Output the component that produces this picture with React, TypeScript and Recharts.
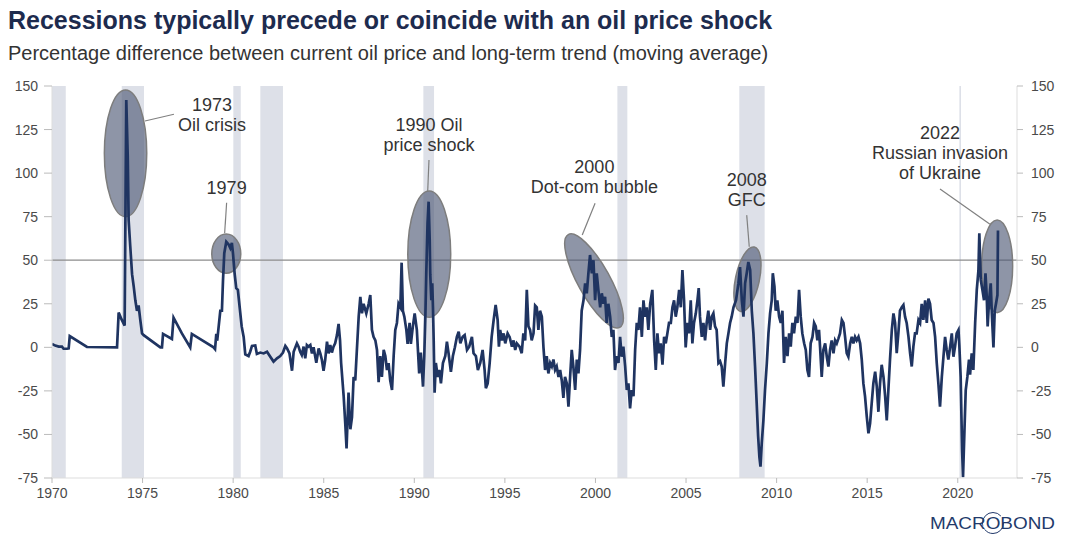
import React from "react";
import { ComposedChart, Line, XAxis, YAxis, ReferenceArea, ReferenceLine, ReferenceDot } from "recharts";

type Pt = [number, number];

// [year, % gap to long-term trend]
const s1970s: Pt[] = [
  [1970.0, 2], [1970.18, 1], [1970.37, 0.4], [1970.55, 0.4], [1970.64, -0.8], [1970.83, -0.8], [1970.92, -0.6], [1970.98, 6.5],
  [1971.93, 0.2], [1973.59, 0], [1973.68, 20], [1973.84, 16], [1974.01, 12.5], [1974.1, 142], [1974.18, 110], [1974.23, 73],
  [1974.32, 58], [1974.42, 42], [1974.51, 35], [1974.6, 27], [1974.69, 21], [1974.78, 24], [1974.87, 16], [1974.97, 8],
  [1975.06, 7], [1975.98, 0], [1976.07, 0], [1976.13, 7.7], [1976.62, 4.8], [1976.71, 17], [1977.17, 8], [1977.63, 0],
  [1977.72, 7.7], [1978.92, 0], [1979.0, -1], [1979.07, 7.7], [1979.12, 3.8], [1979.29, 21], [1979.38, 21], [1979.44, 38.6],
  [1979.51, 54], [1979.62, 60.6], [1979.75, 59], [1979.84, 57], [1979.93, 60], [1979.99, 54],
];

const s1980s: Pt[] = [
  [1980.08, 42.5], [1980.17, 34], [1980.26, 33], [1980.36, 23], [1980.47, 12], [1980.58, 6], [1980.67, -4], [1980.85, -5],
  [1980.94, -2.5], [1981.04, 0.8], [1981.22, 1.1], [1981.31, -3.8], [1981.5, -3], [1981.68, -3.5], [1981.87, -2.5], [1982.05, -5.4],
  [1982.23, -8.2], [1982.42, -6.3], [1982.6, -5], [1982.75, -3], [1982.88, 0.8], [1982.97, -0.5], [1983.11, -3.5], [1983.25, -13.4],
  [1983.34, -2.5], [1983.52, 2.3], [1983.61, 0.4], [1983.7, -2.5], [1983.79, -4.4], [1983.89, 0.4], [1983.98, -6.3], [1984.07, 1.3],
  [1984.16, 0.4], [1984.26, 1.3], [1984.35, -3.5], [1984.44, 0], [1984.59, -8.8], [1984.72, -0.6], [1984.81, -3.5], [1984.9, -7.3],
  [1984.99, -13.4], [1985.08, -7.3], [1985.18, 3.2], [1985.27, -3.5], [1985.36, 1.3], [1985.45, -3], [1985.54, 0.4], [1985.63, 2.3],
  [1985.73, 7], [1985.82, 13.4], [1985.9, 4], [1985.96, -9], [1986.1, -28], [1986.19, -44], [1986.26, -58], [1986.37, -26],
  [1986.47, -47], [1986.56, -40], [1986.65, -17], [1986.74, -19], [1986.83, -1.5], [1986.93, 17.6], [1987.02, 29], [1987.11, 19.5],
  [1987.2, 25], [1987.35, 19.5], [1987.48, 25], [1987.57, 30], [1987.66, 10], [1987.75, 6], [1987.85, 4], [1987.94, -1.5],
  [1988.03, -20], [1988.12, -5], [1988.21, -17], [1988.31, -1.5], [1988.4, -5], [1988.49, -13], [1988.58, -9], [1988.67, -19],
  [1988.77, -24.5], [1988.86, -5], [1988.95, 10], [1989.04, 14], [1989.13, 25], [1989.23, 23], [1989.3, 48.6], [1989.37, 21],
  [1989.45, 17.6], [1989.56, 10], [1989.63, 2], [1989.74, 14], [1989.81, 2], [1989.92, 12],
];

const s1990s: Pt[] = [
  [1990.02, 19.5], [1990.14, 10], [1990.27, -15], [1990.36, -3], [1990.48, -22.6], [1990.55, -5], [1990.61, 17.6], [1990.66, 42],
  [1990.73, 71], [1990.79, 83.6], [1990.85, 61.6], [1990.88, 42], [1990.94, 27], [1990.99, 36.7], [1991.03, 23], [1991.07, 4],
  [1991.12, -26], [1991.19, -9], [1991.29, -17], [1991.38, -13], [1991.47, -20.7], [1991.58, -9], [1991.71, -5], [1991.8, 3.3],
  [1991.89, -3.4], [1992.02, -14], [1992.13, -5], [1992.24, 0], [1992.35, 6], [1992.45, 9], [1992.54, 2.3], [1992.67, 6],
  [1992.78, 7], [1992.91, -1.5], [1993.03, 0.4], [1993.18, 6], [1993.27, -3.4], [1993.4, -5], [1993.51, -13], [1993.64, -9],
  [1993.77, -1.5], [1993.88, -13], [1993.95, -23.5], [1994.05, -20.7], [1994.16, -9], [1994.27, 6], [1994.38, 15.7], [1994.49, 24.3],
  [1994.6, 15.7], [1994.67, 0.4], [1994.74, 10], [1994.84, 4], [1994.93, 8], [1995.02, 2.3], [1995.15, 8], [1995.26, 6],
  [1995.39, 0.4], [1995.48, 4], [1995.57, -1.5], [1995.66, 2.3], [1995.81, 0.4], [1995.93, -3.4], [1996.02, 8], [1996.12, 4],
  [1996.21, 33], [1996.3, 12], [1996.39, 10], [1996.48, 4], [1996.58, 8], [1996.67, 24], [1996.76, 23], [1996.85, 10],
  [1996.94, 21], [1997.04, 17.6], [1997.13, 0], [1997.22, -13], [1997.31, -5], [1997.4, -15], [1997.5, -9], [1997.59, -11],
  [1997.68, -7], [1997.77, -13], [1997.86, -11], [1997.96, -17], [1998.05, -13], [1998.14, -19], [1998.23, -29], [1998.32, -17],
  [1998.42, -20.7], [1998.51, -34], [1998.6, -17], [1998.69, -1.5], [1998.78, -11], [1998.88, -24.5], [1998.97, -7], [1999.06, -15],
  [1999.15, -1.5], [1999.24, 21], [1999.34, 27], [1999.43, 36.7], [1999.52, 31], [1999.61, 42.5], [1999.7, 53], [1999.8, 42.5],
  [1999.89, 50],
];

const s2000s: Pt[] = [
  [1999.98, 27], [2000.07, 42.5], [2000.16, 33], [2000.26, 23], [2000.35, 31], [2000.44, 25], [2000.53, 29], [2000.62, 14],
  [2000.71, 25], [2000.81, 17.6], [2000.9, 6], [2000.99, 10], [2001.08, -13], [2001.17, -5], [2001.27, -9], [2001.36, 6],
  [2001.45, -5.4], [2001.54, 0.4], [2001.64, -11], [2001.73, -24.5], [2001.82, -20.7], [2001.91, -35], [2002.0, -24.5], [2002.1, -28],
  [2002.19, -1.5], [2002.28, 14], [2002.37, 10], [2002.46, 23], [2002.56, 6], [2002.65, 27], [2002.74, 17.6], [2002.83, 23],
  [2002.92, 10], [2003.02, 25], [2003.14, 33], [2003.24, 4], [2003.33, -13], [2003.42, 8], [2003.51, -3.4], [2003.6, 2.3],
  [2003.7, -10], [2003.79, 6], [2003.88, 2.3], [2003.97, 8], [2004.06, 14], [2004.16, 14], [2004.25, 23], [2004.34, 27],
  [2004.43, 17.6], [2004.52, 23], [2004.62, 33], [2004.71, 23], [2004.8, 44.4], [2004.89, 27], [2004.98, 0], [2005.08, 14],
  [2005.17, 8], [2005.26, 27], [2005.35, 2.3], [2005.44, 14], [2005.54, 19.5], [2005.63, 27], [2005.7, 34], [2005.77, 17.6],
  [2005.87, 6], [2005.96, 14], [2006.05, 4], [2006.14, 14], [2006.23, 21], [2006.33, 10], [2006.42, 17.6], [2006.51, 19.5],
  [2006.6, 12], [2006.69, 10], [2006.79, -9], [2006.88, -8], [2006.97, -11], [2007.06, -22.6], [2007.16, -9], [2007.25, 2.3],
  [2007.34, 8], [2007.43, 14], [2007.52, 17.6], [2007.62, 23], [2007.76, 27], [2007.89, 36.7], [2007.98, 46], [2008.08, 27],
  [2008.17, 17.6], [2008.26, 36.7], [2008.35, 42.5], [2008.44, 49], [2008.54, 44.4], [2008.63, 21], [2008.72, 8], [2008.81, -11],
  [2008.9, -32], [2008.98, -51], [2009.05, -63], [2009.11, -68.5], [2009.18, -55], [2009.27, -42], [2009.36, -24.5], [2009.46, -9],
  [2009.55, 8], [2009.64, 19.5], [2009.73, 27], [2009.79, 42.5], [2009.88, 35], [2009.95, 21],
];

const s2010s: Pt[] = [
  [2010.04, 27], [2010.14, 17.6], [2010.23, 14], [2010.32, 21], [2010.41, -9], [2010.5, 6], [2010.6, -5], [2010.69, 8],
  [2010.78, 0.4], [2010.87, 14], [2010.96, 8], [2011.06, 17.6], [2011.15, 14], [2011.24, 33], [2011.33, 17.6], [2011.42, 8],
  [2011.52, 2.3], [2011.61, -1.5], [2011.7, -13], [2011.79, -17], [2011.88, 2.3], [2011.98, 6], [2012.07, 14], [2012.16, 12],
  [2012.25, 4], [2012.34, 10], [2012.4, 0], [2012.49, -17], [2012.58, -1.5], [2012.68, 2.3], [2012.77, -5.4], [2012.86, -11],
  [2012.95, -1.5], [2013.04, 4], [2013.14, -3.4], [2013.23, 4], [2013.32, 2.3], [2013.41, 5], [2013.5, 8], [2013.6, 15.7],
  [2013.69, 14], [2013.78, 6], [2013.87, -3.4], [2013.96, -5.4], [2014.06, 2.3], [2014.15, 6], [2014.24, 2.3], [2014.33, 6],
  [2014.42, 4], [2014.52, 6], [2014.61, 2.3], [2014.7, -7], [2014.79, -20.7], [2014.88, -28], [2014.98, -40], [2015.07, -49.4],
  [2015.16, -43.6], [2015.25, -32], [2015.34, -20.7], [2015.44, -14], [2015.53, -22.6], [2015.62, -37], [2015.71, -20.7], [2015.8, -10],
  [2015.9, -17], [2015.99, -28], [2016.08, -42], [2016.17, -24.5], [2016.26, -7], [2016.36, 10], [2016.45, 19.5], [2016.54, 14],
  [2016.63, -3.4], [2016.72, 8], [2016.81, 21], [2016.91, 23], [2017.0, 24.3], [2017.09, 17.6], [2017.18, 14], [2017.28, 6],
  [2017.37, -3.4], [2017.46, -11], [2017.55, 0.4], [2017.64, 8], [2017.73, 8], [2017.83, 15.7], [2017.92, 14], [2018.01, 25],
  [2018.1, 15.7], [2018.2, 27], [2018.29, 14], [2018.38, 28], [2018.47, 25], [2018.56, 15.7], [2018.66, 14], [2018.75, 6],
  [2018.84, -9], [2018.93, -20.7], [2019.02, -34], [2019.12, -17], [2019.21, -5.4], [2019.3, 6], [2019.39, -1.5], [2019.48, -7],
  [2019.58, 0.4], [2019.67, 8], [2019.76, -5.4], [2019.85, 0.4], [2019.94, 8],
];

const s2020s: Pt[] = [
  [2020.04, 10], [2020.09, 0.4], [2020.16, -17], [2020.24, -59], [2020.29, -74.5], [2020.37, -47.5], [2020.44, -24.5], [2020.53, -17],
  [2020.62, -7], [2020.68, -15.7], [2020.77, -3.4], [2020.86, -13], [2020.96, 14], [2021.05, 33], [2021.14, 44], [2021.19, 65.4],
  [2021.27, 38.7], [2021.36, 33], [2021.45, 27], [2021.53, 42.5], [2021.6, 29], [2021.65, 12], [2021.73, 27], [2021.82, 36.7],
  [2021.88, 19.5], [2021.97, 0], [2022.04, 21], [2022.11, 25], [2022.19, 30], [2022.22, 67],
];

// US recessions, [start, end] in years
const recessions: Pt[] = [
  [1970.0, 1970.76], [1973.85, 1975.08], [1980.01, 1980.42], [1981.5, 1982.75],
  [1990.5, 1991.09], [2001.21, 2001.76], [2007.94, 2009.34], [2020.09, 2020.18],
];

const xTicks = [1970, 1975, 1980, 1985, 1990, 1995, 2000, 2005, 2010, 2015, 2020];
const yTicks = [-75, -50, -25, 0, 25, 50, 75, 100, 125, 150];

type Shock = {
  lines: string[];
  text: Pt;
  box: [number, number, number, number];
  angle: number;
  leader: [Pt, Pt];
};

const shocks: Shock[] = [
  { lines: ["1973", "Oil crisis"], text: [1978.83, 139.1], box: [1972.89, 1975.23, 75, 147.7], angle: 0, leader: [[1975.13, 129.9], [1976.73, 133.8]] },
  { lines: ["1979"], text: [1979.64, 91.6], box: [1978.82, 1980.42, 42.5, 65], angle: 0, leader: [[1979.53, 65.4], [1979.64, 83]] },
  { lines: ["1990 Oil", "price shock"], text: [1990.81, 127.6], box: [1989.64, 1992.01, 17.2, 89.7], angle: 0, leader: [[1990.74, 89.7], [1990.81, 107.5]] },
  { lines: ["2000", "Dot-com bubble"], text: [1999.94, 103.3], box: [1996.99, 2002.85, 28.9, 47.3], angle: 61, leader: [[1999.27, 64.5], [1999.98, 82.7]] },
  { lines: ["2008", "GFC"], text: [2008.35, 96], box: [2007.73, 2009.05, 20.2, 58], angle: 12, leader: [[2008.49, 57.7], [2008.35, 75.9]] },
  { lines: ["2022", "Russian invasion", "of Ukraine"], text: [2019.02, 122.8], box: [2021.32, 2023.03, 19.9, 73.1], angle: 0, leader: [[2021.78, 70.6], [2019.02, 90.9]] },
];

const data = [...s1970s, ...s1980s, ...s1990s, ...s2000s, ...s2010s, ...s2020s].map(([year, value]) => ({ year, value }));

const FONT = "'Liberation Sans', Arial, Helvetica, sans-serif";
const tickStyle = { fill: "#4a4a4a", fontSize: 14 };

const ellipseShape = (angle: number) => (p: any) => {
  const cx = p.x + p.width / 2;
  const cy = p.y + p.height / 2;
  return (
    <ellipse
      cx={cx}
      cy={cy}
      rx={Math.abs(p.width) / 2}
      ry={Math.abs(p.height) / 2}
      transform={`rotate(${angle} ${cx} ${cy})`}
      fill="#4e5976"
      fillOpacity={0.64}
      stroke="#7d7d7d"
      strokeWidth={1.5}
    />
  );
};

const labelShape = (lines: string[]) => (p: any) => (
  <text x={p.cx} y={p.cy} textAnchor="middle" dominantBaseline="central" fill="#333" fontSize={18} fontFamily={FONT}>
    {lines.map((l, i) => (
      <tspan key={i} x={p.cx} dy={i === 0 ? 0 : 20}>
        {l}
      </tspan>
    ))}
  </text>
);

export default function App() {
  return (
    <div style={{ position: "absolute", left: 0, top: 0, width: 1086, height: 550, background: "#fff", fontFamily: FONT }}>
      <ComposedChart width={1086} height={550} data={data} margin={{ top: 86, right: 0, bottom: 42, left: 0 }}>
        {recessions.map(([a, b], i) => (
          <ReferenceArea key={`r${i}`} yAxisId="left" x1={a} x2={b} fill="#dde0e8" fillOpacity={1} stroke="none" ifOverflow="visible" zIndex={-10} />
        ))}
        <ReferenceLine yAxisId="left" y={50} stroke="#8c8c8c" strokeWidth={1.2} zIndex={100} />
        {shocks.map((s, i) => (
          <ReferenceArea
            key={`e${i}`}
            yAxisId="left"
            x1={s.box[0]}
            x2={s.box[1]}
            y1={s.box[2]}
            y2={s.box[3]}
            ifOverflow="visible"
            shape={ellipseShape(s.angle)}
            zIndex={200}
          />
        ))}
        <XAxis
          dataKey="year"
          type="number"
          domain={[1970, 2023.27]}
          ticks={xTicks}
          interval={0}
          allowDataOverflow
          tick={tickStyle}
          tickLine={{ stroke: "#bbb" }}
          axisLine={{ stroke: "#ddd" }}
          tickSize={5}
          tickMargin={5}
        />
        <YAxis
          yAxisId="left"
          domain={[-75, 150]}
          ticks={yTicks}
          interval={0}
          allowDataOverflow
          width={52}
          tick={tickStyle}
          tickLine={{ stroke: "#bbb" }}
          axisLine={{ stroke: "#ddd" }}
          tickSize={8}
          tickMargin={6}
        />
        <YAxis
          yAxisId="right"
          orientation="right"
          domain={[-75, 150]}
          ticks={yTicks}
          interval={0}
          allowDataOverflow
          width={69}
          tick={tickStyle}
          tickLine={{ stroke: "#bbb" }}
          axisLine={{ stroke: "#ddd" }}
          tickSize={6}
          tickMargin={8}
        />
        <Line
          yAxisId="left"
          dataKey="value"
          type="linear"
          dot={false}
          activeDot={false}
          stroke="#1f3461"
          strokeWidth={2.7}
          isAnimationActive={false}
        />
        {shocks.map((s, i) => (
          <ReferenceLine
            key={`l${i}`}
            yAxisId="left"
            segment={[{ x: s.leader[0][0], y: s.leader[0][1] }, { x: s.leader[1][0], y: s.leader[1][1] }]}
            stroke="#808080"
            strokeWidth={1.2}
            ifOverflow="visible"
            zIndex={450}
          />
        ))}
        {shocks.map((s, i) => (
          <ReferenceDot
            key={`t${i}`}
            yAxisId="left"
            x={s.text[0]}
            y={s.text[1]}
            r={1}
            ifOverflow="visible"
            shape={labelShape(s.lines)}
            zIndex={2000}
          />
        ))}
      </ComposedChart>
      <svg width={1086} height={550} style={{ position: "absolute", left: 0, top: 0, pointerEvents: "none" }}>
        <text x={8} y={29} fontSize={25} fontWeight={700} fill="#1d2b4e" fontFamily={FONT}>
          Recessions typically precede or coincide with an oil price shock
        </text>
        <text x={8} y={60} fontSize={20} fill="#333" fontFamily={FONT}>
          Percentage difference between current oil price and long-term trend (moving average)
        </text>
        <text x={930} y={529} fontSize={16} fill="#233a6b" fontFamily={FONT} textLength={125} lengthAdjust="spacingAndGlyphs">
          MACROBOND
        </text>
        <circle cx={993} cy={523} r={10.5} fill="none" stroke="#233a6b" strokeWidth={1} strokeDasharray="26 4 28 8" />
      </svg>
    </div>
  );
}
